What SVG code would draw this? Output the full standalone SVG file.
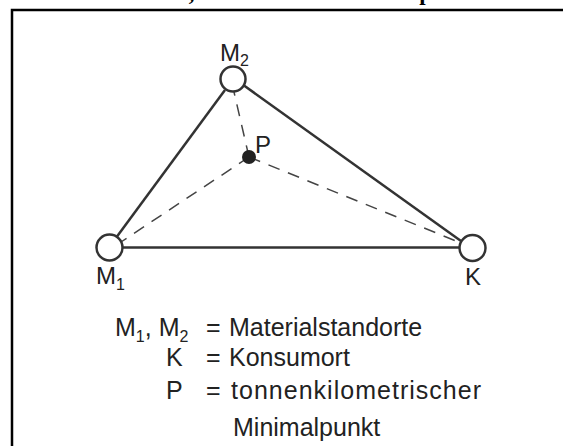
<svg xmlns="http://www.w3.org/2000/svg" width="563" height="446" viewBox="0 0 563 446">
<style>
.lbl{font-family:"Liberation Sans",Arial,sans-serif;font-size:24px;fill:#222}
.sub{font-size:16px}
.leg{font-family:"Liberation Sans",Arial,sans-serif;font-size:25px;fill:#222}
.edge{stroke:#333;stroke-width:2.5;fill:none}
.dash{stroke:#444;stroke-width:1.5;fill:none;stroke-dasharray:12 9}
.node{fill:#fff;stroke:#333;stroke-width:2.5}
.title{font-family:"Liberation Serif","Times New Roman",serif;font-weight:bold;font-size:23px;fill:#000}
</style>
<rect width="563" height="446" fill="#fff"/>
<text class="title" x="10" y="0">Materialstandorte, Konsumort und Transportkosten</text>
<path d="M12 448 V10 H570" fill="none" stroke="#000" stroke-width="2.5"/>
<g id="connectors">
<line class="edge" x1="117" y1="236.5" x2="225" y2="90"/>
<line class="edge" x1="244" y1="85.5" x2="461" y2="241"/>
<line class="edge" x1="122" y1="247.5" x2="460" y2="247.5"/>
<line class="dash" x1="249" y1="157" x2="234" y2="92"/>
<line class="dash" x1="249" y1="157" x2="121" y2="242"/>
<line class="dash" x1="249" y1="157" x2="461" y2="243"/>
</g>
<g id="M2"><circle class="node" cx="233" cy="79" r="12.5"/><text class="lbl" x="220" y="61">M<tspan class="sub" dy="5">2</tspan></text></g>
<g id="M1"><circle class="node" cx="109.5" cy="247.5" r="13"/><text class="lbl" x="96" y="284">M<tspan class="sub" dy="6">1</tspan></text></g>
<g id="K"><circle class="node" cx="472.5" cy="248" r="13"/><text class="lbl" x="465" y="285">K</text></g>
<g id="P"><circle cx="249" cy="157" r="7" fill="#222"/><text class="lbl" x="255" y="153">P</text></g>
<g id="legend">
<text class="leg" x="115" y="336">M<tspan class="sub" dy="6">1</tspan><tspan dy="-6">, M</tspan><tspan class="sub" dy="6">2</tspan></text>
<text class="leg" x="206" y="336">=</text><text class="leg" x="229" y="336">Materialstandorte</text>
<text class="leg" x="166" y="366">K</text>
<text class="leg" x="206" y="366">=</text><text class="leg" x="229" y="366">Konsumort</text>
<text class="leg" x="166" y="399">P</text>
<text class="leg" x="206" y="399">=</text><text class="leg" x="231" y="399" textLength="250" lengthAdjust="spacing">tonnenkilometrischer</text>
<text class="leg" x="233" y="436">Minimalpunkt</text>
</g>
</svg>
